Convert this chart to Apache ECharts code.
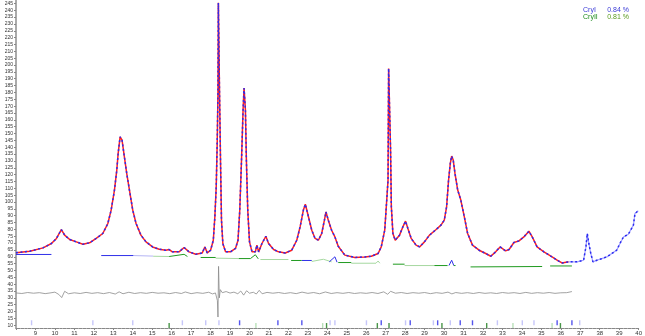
<!DOCTYPE html>
<html><head><meta charset="utf-8">
<script src="https://cdn.jsdelivr.net/npm/echarts@6/dist/echarts.min.js"></script>
<style>html,body{margin:0;padding:0;background:#fff}#c{width:645px;height:336px}</style>
</head><body><div id="c"></div>
<script>
// observed pattern (2theta, counts)
const obsTheta = [8.0,8.71,9.39,9.82,10.08,10.33,10.50,10.76,11.10,11.44,11.78,12.12,12.46,12.72,12.89,13.06,13.18,13.25,13.35,13.45,13.57,13.69,13.83,14.00,14.17,14.42,14.68,15.02,15.36,15.70,15.87,16.04,16.38,16.64,16.89,17.24,17.57,17.71,17.83,18.00,18.14,18.22,18.29,18.34,18.38,18.40,18.46,18.51,18.56,18.63,18.77,19.02,19.28,19.41,19.50,19.59,19.67,19.72,19.79,19.84,19.91,20.00,20.13,20.30,20.38,20.47,20.64,20.84,20.98,21.24,21.49,21.84,22.17,22.43,22.60,22.77,22.87,23.03,23.20,23.37,23.54,23.71,23.85,23.93,24.05,24.22,24.39,24.56,24.90,25.41,25.93,26.26,26.61,26.77,26.95,27.03,27.12,27.15,27.25,27.29,27.37,27.49,27.71,27.88,28.02,28.14,28.31,28.56,28.74,28.99,29.25,29.59,29.84,30.01,30.13,30.23,30.32,30.39,30.47,30.56,30.70,30.86,31.04,31.21,31.46,31.80,32.14,32.40,32.65,32.88,33.16,33.34,33.59,33.85,34.10,34.36,34.53,34.78,35.13,35.55,35.81,36.06,36.40,36.83,37.17,37.29,37.36,37.44,37.54,37.65,37.85,38.11,38.36,38.62,38.87,39.04,39.22,39.47,39.73,39.81,39.98];
const obsCounts = [62.9,64.1,66.5,69.7,73.4,79.9,75.8,72.6,70.9,69.2,70.2,73.4,77.0,84.3,94.1,108.7,123.3,135.5,147.6,145.2,133.0,120.9,108.7,94.1,84.3,75.8,70.9,67.2,65.5,64.8,65.3,63.6,63.6,66.8,63.6,61.9,62.8,67.2,62.8,64.8,72.1,89.2,111.1,142.8,179.6,245.4,179.6,130.6,86.8,69.7,63.6,63.6,66.1,72.1,94.1,130.6,167.2,183.2,167.2,130.6,94.1,70.9,63.6,63.6,68.5,63.6,69.7,75.0,69.7,65.3,63.6,62.8,64.8,72.1,81.8,94.1,98.4,89.2,79.4,73.4,72.1,77.0,86.7,92.8,86.7,79.4,74.5,67.7,61.2,59.5,59.9,60.4,62.4,67.2,79.4,96.5,116.0,197.5,137.9,96.5,77.0,72.1,75.8,81.8,86.0,80.7,73.4,68.5,67.2,70.9,75.8,79.9,83.1,86.8,96.5,116.0,128.2,133.5,130.6,120.9,108.7,101.4,89.2,77.0,68.5,64.8,62.4,60.4,63.6,67.2,64.3,65.3,70.4,71.6,74.5,78.7,74.5,67.2,63.6,59.9,57.5,55.5,56.3,56.3,57.5,67.2,77.0,69.7,62.4,56.3,57.5,58.7,59.9,62.4,64.8,69.7,74.5,76.5,83.1,91.6,93.6];
// calculated pattern covers 8.0 - 36.06 (first 143 observed positions)
const calcCount = 143;

// difference curve
const diffTheta = [8.0,8.3,8.6,8.9,9.2,9.5,9.8,10.0,10.2,10.35,10.5,10.7,11.0,11.3,11.6,11.9,12.2,12.5,12.8,13.1,13.3,13.5,13.8,14.1,14.4,14.7,15.0,15.3,15.6,15.9,16.2,16.5,16.7,17.0,17.3,17.6,17.9,18.1,18.25,18.35,18.38,18.41,18.45,18.5,18.6,18.8,19.0,19.2,19.4,19.55,19.7,19.85,20.0,20.2,20.35,20.5,20.65,20.9,21.2,21.5,21.8,22.1,22.4,22.7,23.0,23.3,23.6,23.9,24.2,24.5,24.8,25.1,25.4,25.7,26.0,26.3,26.6,26.9,27.1,27.25,27.5,27.8,28.1,28.4,28.7,29.0,29.3,29.6,29.9,30.2,30.4,30.6,30.9,31.2,31.5,31.8,32.1,32.4,32.7,33.0,33.3,33.6,33.9,34.2,34.5,34.8,35.1,35.4,35.7,36.0,36.3,36.57];
const diffCounts = [33.6,33.2,33.9,33.4,33.8,33.1,33.7,34.2,32.5,30.2,34.8,33.0,33.7,33.2,34.0,33.3,33.8,33.1,33.9,32.8,34.4,33.0,34.1,33.2,33.8,33.3,34.0,33.4,33.7,33.1,33.9,33.2,34.3,33.1,33.8,33.3,34.1,32.9,33.6,28.0,16.0,53.0,30.0,36.0,33.8,34.6,33.5,34.2,33.0,35.0,32.0,35.2,33.4,34.1,32.8,35.5,33.0,34.0,33.4,33.9,33.2,33.8,33.1,34.2,33.3,33.9,33.0,34.3,33.2,33.8,33.3,33.9,33.2,33.7,33.3,33.9,33.2,34.4,32.6,34.8,33.4,33.9,33.2,33.8,33.4,33.9,33.1,33.8,33.3,34.2,32.9,33.9,33.3,33.8,33.2,33.9,33.3,33.7,33.2,33.9,33.4,33.8,33.2,34.0,33.3,33.8,33.4,33.9,33.3,33.7,33.8,34.6];

// phase contribution baselines (null = gap)
const phaseIStrong = [[8.0,61.7],[9.82,61.7],null,[12.38,60.9],[14.03,60.9],null,[22.68,57.3],[23.20,57.3],null,[24.10,56.3],[24.39,60.0],[24.50,56.0],null,[30.25,53.6],[30.39,57.5],[30.50,53.6]];
const phaseIFaint = [[14.03,60.9],[15.05,60.5]];
const phaseIIStrong = [[15.87,60.2],[16.64,61.8],[16.81,60.2],null,[17.49,59.5],[18.26,59.5],null,[19.45,58.7],[20.05,58.7],[20.30,61.5],[20.45,58.5],null,[22.14,57.3],[22.68,57.3],null,[24.56,55.8],[25.23,55.8],null,[27.37,54.6],[27.97,54.6],null,[29.50,53.6],[30.18,53.6],null,[30.50,53.6],[30.59,53.6],null,[31.36,52.6],[35.04,52.9],null,[35.45,53.3],[36.57,53.3]];
const phaseIIFaint = [[15.05,60.4],[15.87,60.2],null,[18.26,59.0],[19.45,58.7],null,[20.56,58.0],[22.00,58.0],null,[23.20,56.6],[23.80,58.2],[24.22,56.3],null,[25.23,55.3],[26.50,55.3],[26.61,56.9],[26.70,55.3],null,[27.97,53.6],[29.50,53.6]];

// reflection tick positions
const hklI = [19.49,21.46,22.69,26.77,28.26,29.67,30.83,31.46,35.81,36.57];
const hklIFaint = [8.80,11.95,14.00,16.55,17.75,18.43,24.14,24.39,26.01,28.02,29.45,30.32,32.74,34.02,34.62,36.97];
const hklII = [15.87,23.96,26.57,27.17,29.89,32.19,35.98];
const hklIIFaint = [20.33,23.76,33.54,35.55];

const yTicks = [10,15,20,25,30,35,40,45,50,55,60,65,70,75,80,85,90,95,100,105,110,115,120,125,130,135,140,145,150,155,160,165,170,175,180,185,190,195,200,205,210,215,220,225,230,235,240,245];
const phases = ['CryI','CryII'];
const phasePct = ['0.84 %','0.81 %'];

const obs = obsTheta.map((t,i)=>[t,obsCounts[i]]);
const calc = obs.slice(0,calcCount);
const obsTail = obs.slice(calcCount-1);
const diff = diffTheta.map((t,i)=>[t,diffCounts[i]]);
const tickSeries = (arr, y, color, h) => ({type:'scatter', data:arr.map(t=>[t,y]), symbol:'rect', symbolSize:[1.4,h], itemStyle:{color}, silent:true, z:6});

const chart = echarts.init(document.getElementById('c'), null, {renderer:'canvas'});
chart.setOption({
  animation:false,
  grid:{left:16,right:3,top:0,bottom:8,containLabel:false},
  xAxis:{type:'value',min:8,max:40,interval:1,
    axisLine:{lineStyle:{color:'#888',width:1}},
    axisTick:{length:2,lineStyle:{color:'#888'}},
    minorTick:{show:true,splitNumber:5,length:1,lineStyle:{color:'#aaa'}},
    axisLabel:{fontSize:6,color:'#333',margin:2,fontFamily:'Liberation Sans',formatter:v=>v===8?'':String(v)},
    splitLine:{show:false}},
  yAxis:{type:'value',min:8,max:247.5,
    axisLine:{show:true,lineStyle:{color:'#aaa',width:2}},
    axisTick:{show:true,length:2,customValues:yTicks,lineStyle:{color:'#888'}},
    axisLabel:{fontSize:5,color:'#333',margin:3,fontFamily:'Liberation Sans',customValues:yTicks},
    splitLine:{show:false}},
  graphic:[
    {type:'text',left:583,top:7,style:{text:phases[0],fill:'#3a3ad6',font:'7px "Liberation Sans"'}},
    {type:'text',right:16,top:7,style:{text:phasePct[0],fill:'#3a3ad6',font:'7px "Liberation Sans"'}},
    {type:'text',left:583,top:14,style:{text:phases[1],fill:'#1e8c1e',font:'7px "Liberation Sans"'}},
    {type:'text',right:16,top:14,style:{text:phasePct[1],fill:'#5a9a1e',font:'7px "Liberation Sans"'}}
  ],
  series:[
    {type:'line',data:phaseIFaint,showSymbol:false,connectNulls:false,lineStyle:{color:'#b4b4f4',width:1},z:2},
    {type:'line',data:phaseIIFaint,showSymbol:false,connectNulls:false,lineStyle:{color:'#a6d8a0',width:1},z:2},
    {type:'line',data:phaseIStrong,showSymbol:false,connectNulls:false,lineStyle:{color:'#2f2fe8',width:1},z:3},
    {type:'line',data:phaseIIStrong,showSymbol:false,connectNulls:false,lineStyle:{color:'#1f9a1f',width:1},z:3},
    {type:'line',data:diff,showSymbol:false,lineStyle:{color:'#8a8a8a',width:0.8},z:3},
    {type:'line',data:calc,showSymbol:false,lineStyle:{color:'#ff2020',width:1.5},z:4},
    {type:'line',data:obsTail,showSymbol:false,lineStyle:{color:'#a0a0ff',width:1.2},z:4},
    {type:'line',data:obs,showSymbol:false,lineStyle:{color:'#2a2af0',width:1.5,type:[2,2.5]},z:5},
    tickSeries(hklIFaint,11.8,'#b8b8f8',5),
    tickSeries(hklI,11.8,'#2a2ae8',5),
    tickSeries(hklIIFaint,9.8,'#a8d8a8',5),
    tickSeries(hklII,9.8,'#1a7a1a',5)
  ]
});
</script></body></html>
